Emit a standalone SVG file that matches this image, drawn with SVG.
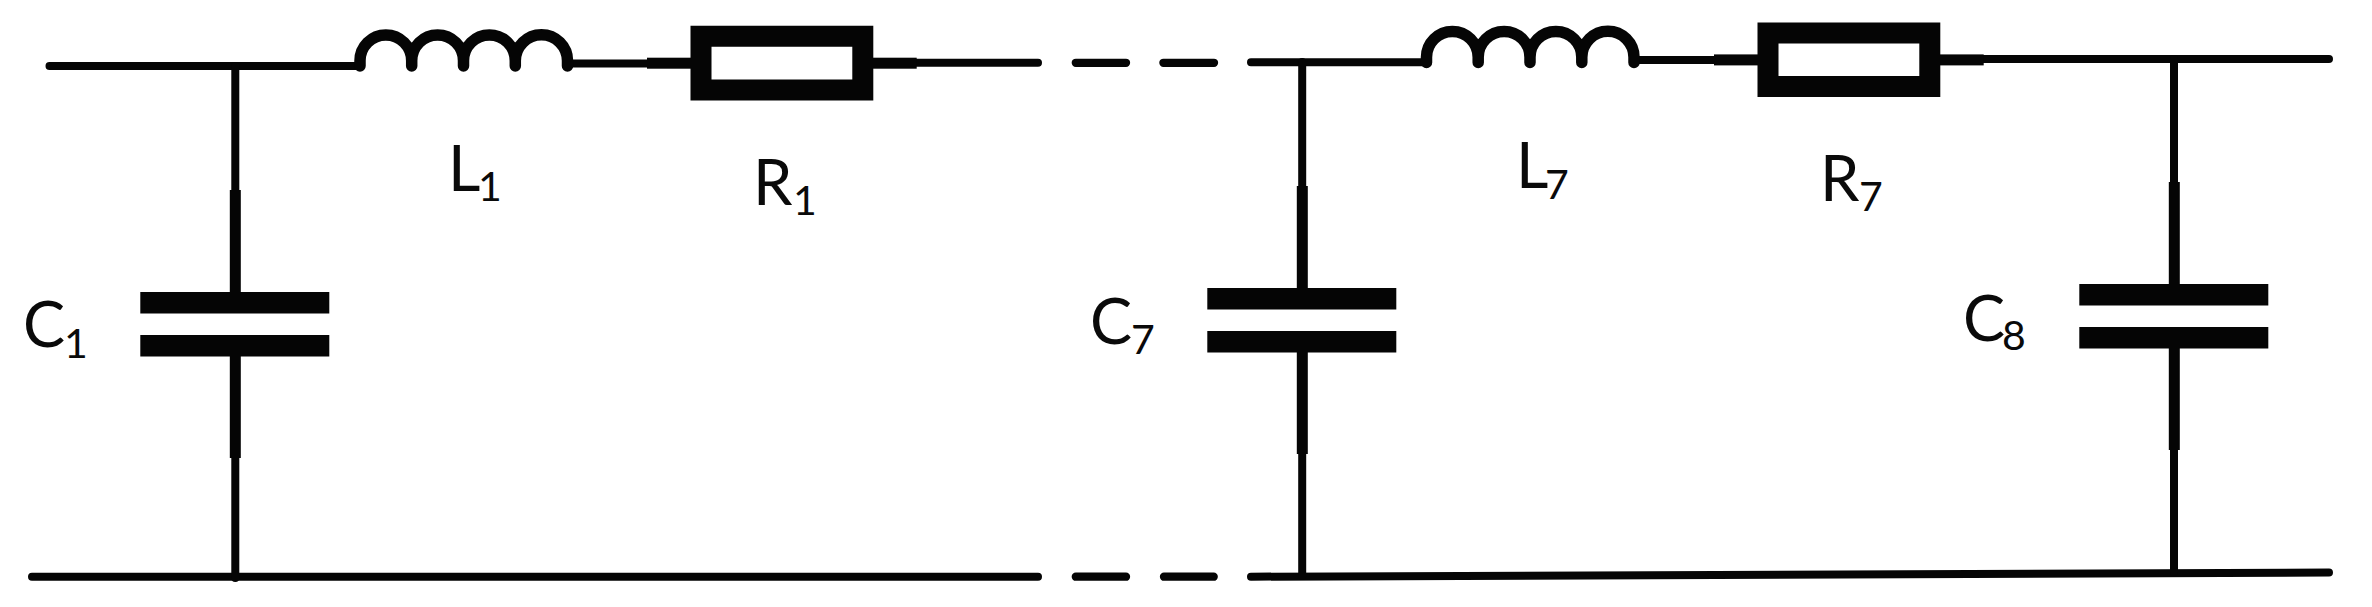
<svg xmlns="http://www.w3.org/2000/svg" width="2372" height="607" viewBox="0 0 2372 607">
<style>
.w{fill:none;stroke:#050505;stroke-width:8;stroke-linecap:round}
.d{fill:none;stroke:#050505;stroke-width:8.3;stroke-linecap:round}
.ind{fill:none;stroke:#050505;stroke-width:11.5;stroke-linecap:round;stroke-linejoin:round}
.k{fill:#050505}
.t{font-family:Lato,"Noto Sans",sans-serif;font-size:63px;fill:#0a0a0a}
.s{font-size:41px}
</style>
<defs>
<g id="cap"><rect class="k" x="140.3" y="0" width="189" height="21.5"/><rect class="k" x="140.3" y="43" width="189" height="21.5"/><rect class="k" x="229.8" y="-102" width="11" height="102"/><rect class="k" x="229.8" y="64" width="11" height="102"/></g>
<path id="coil" class="ind" d="M360 66V60.8A1 1 0 0 1 411.7 60.8V66M411.700 60.8A1 1 0 0 1 463.500 60.8V66M463.500 60.8A1 1 0 0 1 515.300 60.8V66M515.300 60.8A1 1 0 0 1 567.500 60.8V66"/>
<g id="res"><path class="k" fill-rule="evenodd" d="M690.500 25.700H873.300V100.400H690.500ZM711.500 46.800V79.400H852.300V46.800Z"/><rect class="k" x="647" y="57.700" width="44" height="11"/><rect class="k" x="873" y="57.700" width="43.700" height="11"/></g>
</defs>
<g id="connectors">
<path class="w" d="M49.500 66H360M567 63.500H648M916 62.800H1038M1251 62.300H1426M1633 60H1715M1983 59H2329"/>
<path class="w" d="M32 576.700H1038M1251 576.700L2329 572.500"/>
<path class="w" d="M235.300 66V195M235.300 450V578M1302.200 62V195M1302.200 445V576M2174 59V195M2174 440V572"/>
<path class="d" d="M1075.800 62.800H1126M1163.400 62.800H1214M1075.800 576.700H1126M1164 576.700H1213.700"/>
</g>
<g id="C1"><use href="#cap" transform="translate(0 292)"/><text class="t" x="23" y="347">C<tspan class="s" x="64" y="358">1</tspan></text></g>
<g id="L1"><use href="#coil"/><text class="t" x="448" y="191">L<tspan class="s" x="478" y="201">1</tspan></text></g>
<g id="R1"><use href="#res"/><text class="t" x="753" y="205">R<tspan class="s" x="793" y="215">1</tspan></text></g>
<g id="C7"><use href="#cap" transform="translate(1067 288)"/><text class="t" x="1090" y="344">C<tspan class="s" x="1131" y="354">7</tspan></text></g>
<g id="L7"><use href="#coil" transform="translate(1066.500 -3.500)"/><text class="t" x="1516" y="188">L<tspan class="s" x="1545" y="199">7</tspan></text></g>
<g id="R7"><use href="#res" transform="translate(1067 -3.300)"/><text class="t" x="1820" y="201">R<tspan class="s" x="1859" y="211">7</tspan></text></g>
<g id="C8"><use href="#cap" transform="translate(1939 284)"/><text class="t" x="1963" y="341">C<tspan class="s" x="2002" y="350">8</tspan></text></g>
</svg>
